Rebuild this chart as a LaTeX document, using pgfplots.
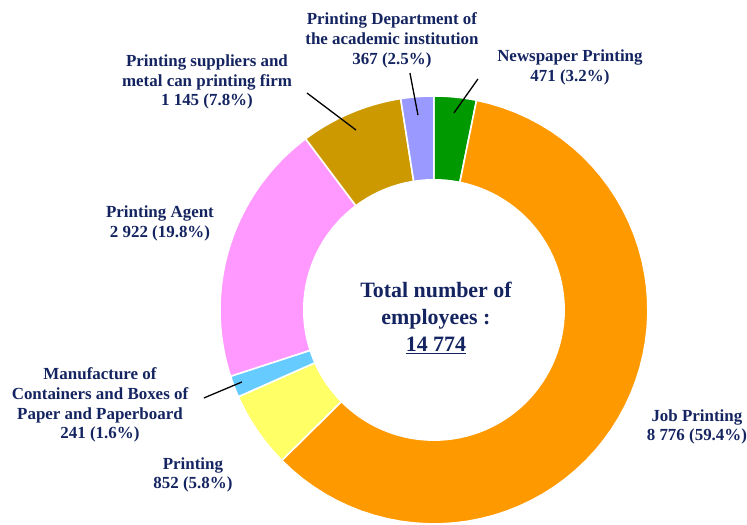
\documentclass[border=0pt]{standalone}
\usepackage{fontspec}
\setmainfont{Liberation Serif}
\usepackage{pgfplots}
\pgfplotsset{compat=1.18}
\definecolor{navy}{RGB}{20,36,96}
\definecolor{cGreen}{RGB}{0,153,0}
\definecolor{cOrange}{RGB}{255,153,0}
\definecolor{cYellow}{RGB}{255,255,102}
\definecolor{cBlue}{RGB}{102,204,255}
\definecolor{cPink}{RGB}{255,153,255}
\definecolor{cGold}{RGB}{204,153,0}
\definecolor{cLav}{RGB}{153,153,255}
% employees by category (clockwise from 12 o'clock)
\def\vA{471}   % Newspaper Printing
\def\vB{8776}  % Job Printing
\def\vC{852}   % Printing
\def\vD{241}   % Manufacture of Containers ...
\def\vE{2922}  % Printing Agent
\def\vF{1145}  % Printing suppliers ...
\def\vG{367}   % Printing Department ...
\pgfmathsetmacro\T{\vA+\vB+\vC+\vD+\vE+\vF+\vG}
\pgfmathsetmacro\aA{90-\vA/\T*360}
\pgfmathsetmacro\aB{\aA-\vB/\T*360}
\pgfmathsetmacro\aC{\aB-\vC/\T*360}
\pgfmathsetmacro\aD{\aC-\vD/\T*360}
\pgfmathsetmacro\aE{\aD-\vE/\T*360}
\pgfmathsetmacro\aF{\aE-\vF/\T*360}
\pgfmathsetmacro\aG{\aF-\vG/\T*360}
\def\cx{434}\def\cy{213}\def\R{214}\def\r{131}
\tikzset{lab/.style={font=\fontsize{17}{20}\selectfont\bfseries, text=navy, align=center, inner sep=0pt}}
\pgfplotsset{wedge/.style={draw=white, line width=1.6pt, samples=60, variable=\t}}
\begin{document}
\begin{tikzpicture}
\begin{axis}[
  scale only axis, width=747bp, height=523bp,
  xmin=0, xmax=747, ymin=0, ymax=523,
  hide axis, clip=false,
]
\path (rel axis cs:0,0) rectangle (rel axis cs:1,1);
\addplot[wedge, fill=cGreen,  domain=\aA:90]  ({\cx+\R*cos(\t)},{\cy+\R*sin(\t)}) -- (axis cs:\cx,\cy) -- cycle;
\addplot[wedge, fill=cOrange, domain=\aB:\aA] ({\cx+\R*cos(\t)},{\cy+\R*sin(\t)}) -- (axis cs:\cx,\cy) -- cycle;
\addplot[wedge, fill=cYellow, domain=\aC:\aB] ({\cx+\R*cos(\t)},{\cy+\R*sin(\t)}) -- (axis cs:\cx,\cy) -- cycle;
\addplot[wedge, fill=cBlue,   domain=\aD:\aC] ({\cx+\R*cos(\t)},{\cy+\R*sin(\t)}) -- (axis cs:\cx,\cy) -- cycle;
\addplot[wedge, fill=cPink,   domain=\aE:\aD] ({\cx+\R*cos(\t)},{\cy+\R*sin(\t)}) -- (axis cs:\cx,\cy) -- cycle;
\addplot[wedge, fill=cGold,   domain=\aF:\aE] ({\cx+\R*cos(\t)},{\cy+\R*sin(\t)}) -- (axis cs:\cx,\cy) -- cycle;
\addplot[wedge, fill=cLav,    domain=\aG:\aF] ({\cx+\R*cos(\t)},{\cy+\R*sin(\t)}) -- (axis cs:\cx,\cy) -- cycle;
\addplot[fill=white, draw=none, domain=0:360, samples=120] ({\cx+\r*cos(x)},{\cy+\r*sin(x)}) -- cycle;
% leader lines
\addplot[black, line width=1.3pt] coordinates {(410,450) (418,408)};
\addplot[black, line width=1.3pt] coordinates {(478,444) (454,410)};
\addplot[black, line width=1.3pt] coordinates {(307,430) (356,393)};
\addplot[black, line width=1.3pt] coordinates {(204,125) (242,141)};
% labels
\node[lab] at (axis cs:392,483) {Printing Department of\\the academic institution\\367 (2.5\%)};
\node[lab] at (axis cs:570,456) {Newspaper Printing\\471 (3.2\%)};
\node[lab] at (axis cs:207,441) {Printing suppliers and\\metal can printing firm\\1 145 (7.8\%)};
\node[lab] at (axis cs:160,300) {Printing Agent\\2 922 (19.8\%)};
\node[lab] at (axis cs:100,118) {Manufacture of\\Containers and Boxes of\\Paper and Paperboard\\241 (1.6\%)};
\node[lab] at (axis cs:193,48) {Printing\\852 (5.8\%)};
\node[lab] at (axis cs:697,96) {Job Printing\\8 776 (59.4\%)};
\node[font=\fontsize{22}{27}\selectfont\bfseries, text=navy, align=center, inner sep=0pt] at (axis cs:436,205) {Total number of\\employees :\\\underline{14 774}};
\end{axis}
\end{tikzpicture}
\end{document}
